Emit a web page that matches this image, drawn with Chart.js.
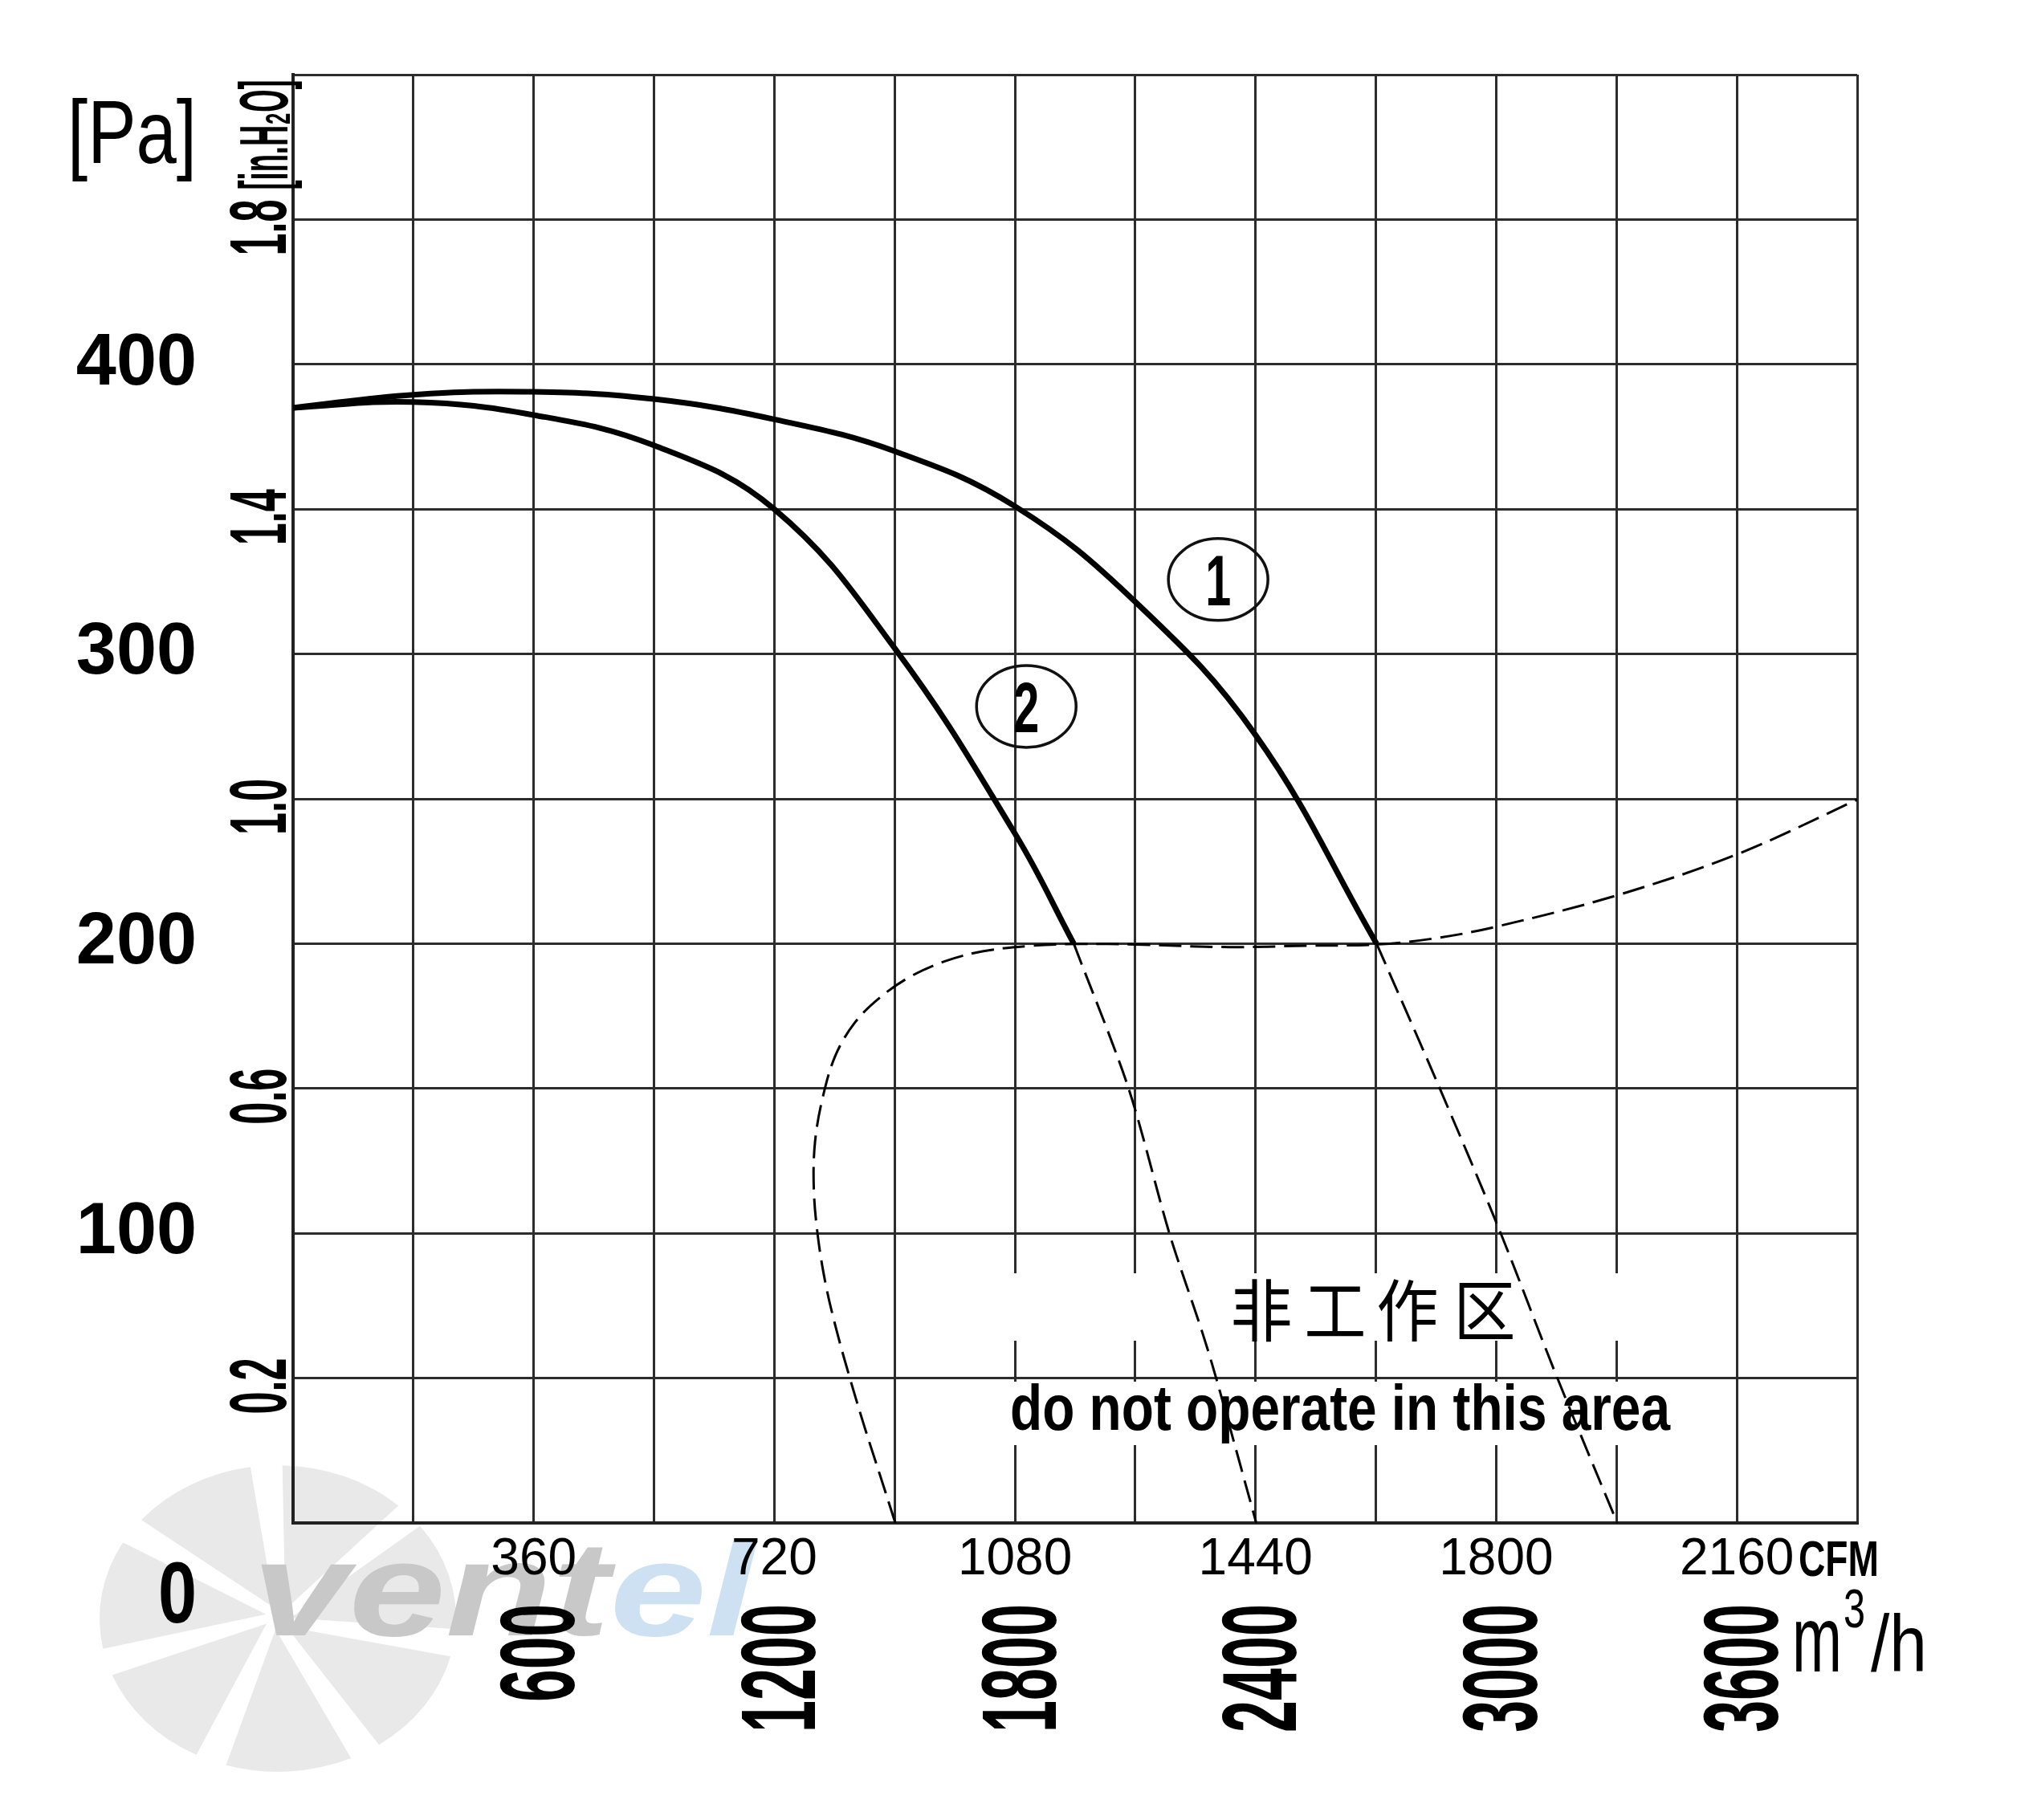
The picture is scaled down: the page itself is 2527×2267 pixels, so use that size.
<!DOCTYPE html>
<html><head><meta charset="utf-8">
<script src="https://cdn.jsdelivr.net/npm/chart.js@4.4.1/dist/chart.umd.min.js"></script>
<style>html,body{margin:0;padding:0;background:#fff;overflow:hidden}</style>
</head><body>
<canvas id="c" width="2527" height="2267" style="display:block;width:2527px;height:2267px"></canvas>
<script>
// ---------- data ----------
const cfmGrid = [0,180,360,540,720,900,1080,1260,1440,1620,1800,1980,2160,2340];
const cfmLabels = [360, 720, 1080, 1440, 1800, 2160];
const m3hLabels = [600, 1200, 1800, 2400, 3000, 3600];
const paLabels = [100, 200, 300, 400];
const inchLabels = [0.2, 0.6, 1.0, 1.4, 1.8];

const curve1X = [0, 180, 360, 540, 720, 900, 1080, 1260, 1440, 1621];
const curve1Y = [385, 389.5, 390.5, 388, 381, 370, 351, 318, 272, 200];
const curve1DashX = [1621, 1710, 1805, 1888, 1981];
const curve1DashY = [200, 153, 101, 52, 0];

const curve2X = [0, 180, 360, 540, 720, 900, 1080, 1168];
const curve2Y = [385, 387, 382.5, 372, 350, 302, 238, 200];
const curve2DashX = [1168, 1250, 1311, 1360, 1381, 1441];
const curve2DashY = [200, 150, 100, 66, 50, 0];

const limitX = [901, 878, 855, 833.5, 814, 797, 785, 779, 781, 793, 812, 841, 878, 922.5, 975, 1033, 1101, 1178, 1261, 1401, 1517, 1621, 1710, 1801, 1981, 2162, 2340];
const limitY = [0, 16.6, 33.1, 49.6, 65.7, 82.2, 99.2, 115.7, 131.8, 147.5, 161.7, 172.9, 181.4, 188.5, 193.9, 197.4, 199.2, 199.9, 199.7, 198.8, 199.3, 199.7, 201.9, 205.9, 216.7, 231, 249.7];

const circleLabels = ['1', '2'];
const circleX = [1384, 1097];
const circleY = [325.7, 281.9];

// ---------- helpers ----------
const SANS = '"Liberation Sans", Arial, sans-serif';
const pts = (xs, ys) => xs.map((x, i) => ({x: x, y: ys[i]}));

function drawFit(ctx, text, x, y, o) {
  const capH = o.capH;
  const size = capH / 0.72;
  ctx.save();
  ctx.font = (o.style || '') + ' ' + (o.weight || 'normal') + ' ' + size + 'px ' + (o.family || SANS);
  const w = ctx.measureText(text).width;
  const sx = o.width ? o.width / w : (o.sx || 1);
  ctx.translate(x, y);
  ctx.rotate(o.rot || 0);
  ctx.scale(sx, 1);
  ctx.fillStyle = o.color || '#000';
  ctx.textAlign = o.align || 'center';
  ctx.textBaseline = 'alphabetic';
  ctx.fillText(text, 0, o.mid ? capH / 2 : 0);
  ctx.restore();
  return w * sx;
}

function drawWatermark(ctx) {
  const cx = 346, cy = 2016, R = 222, n = 7;
  ctx.save();
  ctx.translate(cx, cy);
  ctx.scale(1, 0.86);
  ctx.fillStyle = '#e9e9e9';
  for (let i = 0; i < n; i++) {
    const a0 = i / n * 2 * Math.PI + 0.25;
    const a1 = a0 + 2 * Math.PI / n - 0.18;
    ctx.beginPath();
    ctx.moveTo(16 * Math.cos(a0 + 0.6), 16 * Math.sin(a0 + 0.6));
    ctx.arc(0, 0, R, a0, a1);
    ctx.closePath();
    ctx.fill();
  }
  ctx.restore();
  const f = {capH: 120, sx: 1.3, align: 'left', weight: 'bold', style: 'italic', color: '#c8c8c8'};
  const w1 = drawFit(ctx, 'vent', 314, 2037, f);
  drawFit(ctx, 'el', 314 + w1, 2037, Object.assign({}, f, {color: '#cde1f2'}));
}

const overlay = {
  id: 'overlay',
  beforeDraw(chart) {
    const ctx = chart.ctx;
    ctx.save(); ctx.fillStyle = '#fff'; ctx.fillRect(0, 0, chart.width, chart.height); ctx.restore();
    drawWatermark(ctx);
  },
  beforeDatasetsDraw(chart) {
    const ctx = chart.ctx;
    ctx.save();
    ctx.fillStyle = '#fff';
    ctx.fillRect(1240, 1586, 810, 84);
    ctx.fillRect(1256, 1721, 825, 79);
    ctx.restore();
    const cn = ['非', '工', '作', '区'];
    const cnX = [1571, 1663, 1753, 1849];
    ctx.save();
    ctx.fillStyle = '#000';
    ctx.font = '84px "Noto Sans CJK SC"';
    ctx.textAlign = 'center';
    ctx.textBaseline = 'middle';
    cn.forEach((c, i) => { ctx.save(); ctx.translate(cnX[i], 1632); ctx.scale(0.92, 1); ctx.fillText(c, 0, 0); ctx.restore(); });
    ctx.restore();
    drawFit(ctx, 'do not operate in this area', 1258, 1781, {capH: 58, width: 822, align: 'left', weight: 'bold'});
  },
  afterDraw(chart) {
    const ctx = chart.ctx;
    const xs = chart.scales.x, ys = chart.scales.y, x2 = chart.scales.x2, y2 = chart.scales.y2;
    drawFit(ctx, '[Pa]', 84, 203, {capH: 80, width: 161, align: 'left'});
    drawFit(ctx, '0', 245, ys.getPixelForValue(0) + 85, {capH: 78, width: 48, align: 'right', weight: 'bold', mid: true});
    drawFit(ctx, '[in.H₂O]', 327, 168, {capH: 62, width: 137, rot: -Math.PI / 2, mid: true, weight: 'bold'});
    inchLabels.forEach(v => {
      drawFit(ctx, v.toFixed(1), 320, y2.getPixelForValue(v) + 10, {capH: 72, width: 70, rot: -Math.PI / 2, mid: true, weight: 'bold'});
    });
    m3hLabels.forEach(v => {
      const t = String(v);
      drawFit(ctx, t, x2.getPixelForValue(v) + 3, 1998, {capH: 95, width: 38 * t.length + 8, rot: -Math.PI / 2, mid: true, align: 'right', weight: 'bold'});
    });
    drawFit(ctx, 'CFM', 2240, 1963, {capH: 45, width: 100, align: 'left', weight: 'bold'});
    drawFit(ctx, 'm', 2232, 2082, {capH: 84, width: 62, align: 'left'});
    drawFit(ctx, '3', 2296, 2027, {capH: 50, width: 27, align: 'left'});
    drawFit(ctx, '/h', 2330, 2082, {capH: 72, width: 70, align: 'left'});
    circleLabels.forEach((t, i) => {
      const px = xs.getPixelForValue(circleX[i]), py = ys.getPixelForValue(circleY[i]);
      ctx.save();
      ctx.strokeStyle = '#111';
      ctx.lineWidth = 3.5;
      ctx.beginPath();
      ctx.ellipse(px, py, 62, 51, 0, 0, 2 * Math.PI);
      ctx.stroke();
      ctx.restore();
      drawFit(ctx, t, px, py, {capH: 64, width: 32, mid: true, weight: 'bold'});
    });
  }
};

const ds = (data, width, dash, extra) => Object.assign({
  data: data, borderColor: '#000', borderWidth: width, borderDash: dash,
  pointRadius: 0, showLine: true, fill: false, xAxisID: 'x', yAxisID: 'y'
}, extra || {});

const gridStyle = {color: '#2c2c2c', lineWidth: 3, drawTicks: false};

new Chart(document.getElementById('c'), {
  type: 'scatter',
  data: {
    datasets: [
      ds(pts(limitX, limitY), 3, [28, 11], {tension: 0.35}),
      ds(pts(curve1DashX, curve1DashY), 3, [28, 11], {tension: 0.3}),
      ds(pts(curve2DashX, curve2DashY), 3, [28, 11], {tension: 0.3}),
      ds(pts(curve1X, curve1Y), 7, [], {tension: 0.4}),
      ds(pts(curve2X, curve2Y), 7, [], {tension: 0.4})
    ]
  },
  options: {
    responsive: false,
    animation: false,
    devicePixelRatio: 1,
    layout: {padding: {left: 0, top: 93, right: 214, bottom: 0}},
    plugins: {legend: {display: false}, tooltip: {enabled: false}},
    scales: {
      x: {
        type: 'linear', position: 'bottom', min: 0, max: 2340,
        afterBuildTicks: s => { s.ticks = cfmGrid.map(v => ({value: v})); },
        ticks: {
          autoSkip: false, maxRotation: 0, minRotation: 0, color: '#000', padding: 8,
          font: {family: SANS, size: 64},
          callback: v => cfmLabels.includes(v) ? String(v) : ''
        },
        grid: gridStyle,
        border: {color: '#222', width: 4},
        afterFit: s => { s.height = 370; s.paddingLeft = 0; s.paddingRight = 0; }
      },
      y: {
        type: 'linear', position: 'left', min: 0, max: 500,
        ticks: {
          stepSize: 50, autoSkip: false, color: '#000', padding: 120,
          font: {family: SANS, size: 90, weight: 'bold'},
          callback: v => paLabels.includes(v) ? String(v) : ''
        },
        grid: gridStyle,
        border: {color: '#222', width: 4},
        afterFit: s => { s.width = 365; s.paddingTop = 0; s.paddingBottom = 0; }
      },
      x2: {type: 'linear', position: 'bottom', display: false, min: 0, max: 3900},
      y2: {type: 'linear', position: 'left', display: false, min: 0, max: 2.0}
    }
  },
  plugins: [overlay]
});
</script>
</body></html>
